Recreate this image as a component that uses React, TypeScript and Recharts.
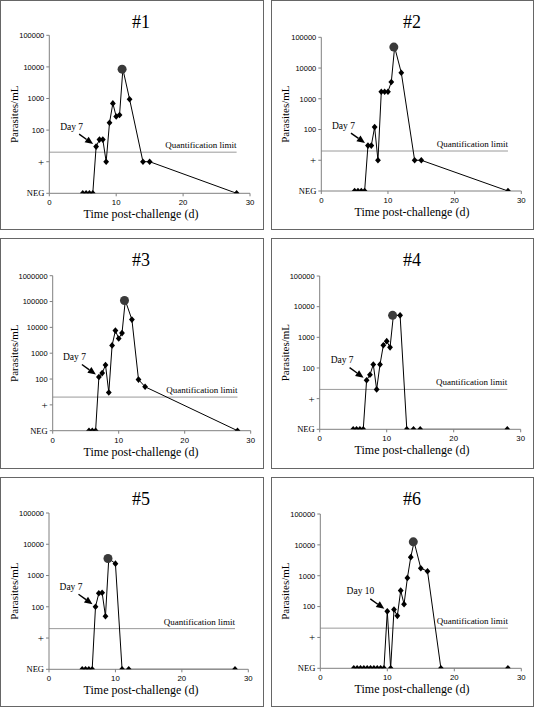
import React from 'react';
import { Line, LineChart, ReferenceDot, ReferenceLine, XAxis, YAxis } from 'recharts';

// pseudo-log y axis: NEG sits at 1, "+" (positive, not quantifiable) at 10
const NEG = 1;
const POS = 10;
const QUANT_LIMIT = 20;
const LIMIT_END_DAY = 28;

const X_TICKS = [0, 10, 20, 30];
const Y_TICKS = [1, 10, 100, 1000, 10000, 100000];
const Y_TICKS_BIG = [1, 10, 100, 1000, 10000, 100000, 1000000];

const DAYS_1 = [5, 5.5, 6, 6.5, 7, 7.5, 8, 8.5, 9, 9.5, 10, 10.5, 11, 12, 14, 15, 28];
const VALUES_1 = [NEG, NEG, NEG, NEG, 30, 50, 50, POS, 170, 700, 270, 300, 8500, 950, POS, POS, NEG];

const DAYS_2 = [5, 5.5, 6, 6.5, 7, 7.5, 8, 8.5, 9, 9.5, 10, 10.5, 11, 12, 14, 15, 28];
const VALUES_2 = [NEG, NEG, NEG, NEG, 30, 30, 120, POS, 1700, 1700, 1700, 3500, 48000, 7000, POS, POS, NEG];

const DAYS_3 = [5.5, 6, 6.5, 7, 7.5, 8, 8.5, 9, 9.5, 10, 10.5, 11, 12, 13, 14, 28];
const VALUES_3 = [NEG, NEG, NEG, 120, 170, 350, 30, 2000, 7500, 3700, 6000, 110000, 20000, 95, 50, NEG];

const DAYS_4 = [5, 5.5, 6, 6.5, 7, 7.5, 8, 8.5, 9, 9.5, 10, 10.5, 11, 12, 13, 14, 15, 28];
const VALUES_4 = [NEG, NEG, NEG, NEG, 40, 60, 130, 20, 130, 550, 750, 470, 5200, 5200, NEG, NEG, NEG, NEG];

const DAYS_5 = [5, 5.5, 6, 6.5, 7, 7.5, 8, 8.5, 9, 10, 11, 12, 28];
const VALUES_5 = [NEG, NEG, NEG, NEG, 100, 270, 280, 50, 3500, 2400, NEG, NEG, NEG];

const DAYS_6 = [5, 5.5, 6, 6.5, 7, 7.5, 8, 8.5, 9, 9.5, 10, 10.5, 11, 11.5, 12, 12.5, 13, 13.5, 14, 15, 16, 18, 28];
const VALUES_6 = [NEG, NEG, NEG, NEG, NEG, NEG, NEG, NEG, NEG, NEG, 70, NEG, 80, 50, 330, 120, 850, 4000, 12500, 1750, 1400, NEG, NEG];

const TITLES = ['#1', '#2', '#3', '#4', '#5', '#6'];
const PEAK_DAYS = [11, 11, 11, 11, 9, 14];
const ARROW_DAYS = [7, 7, 7, 7, 7, 10];

const SERIF = '"Liberation Serif", "Times New Roman", serif';
const SANS = '"Liberation Sans", Arial, sans-serif';

type Layout = { left: number; top: number; w: number; h: number; plot: [number, number, number, number] };

// outer box position + plot insets [left, top, right, bottom] inside the border
const LAYOUTS: Layout[] = [
  { left: 0, top: 0, w: 264, h: 230, plot: [48.3, 34.3, 13, 35.7] },
  { left: 271, top: 0, w: 263, h: 230, plot: [49.3, 36.3, 11.7, 38] },
  { left: 0, top: 238, w: 264, h: 231, plot: [51.7, 36.7, 12.3, 37.3] },
  { left: 271, top: 238, w: 263, h: 231, plot: [47.7, 37, 12.3, 38.7] },
  { left: 0, top: 477, w: 264, h: 230, plot: [48, 35, 14.7, 36.7] },
  { left: 271, top: 477, w: 263, h: 230, plot: [48.3, 36, 11.7, 37.7] },
];

const SERIES = [
  [DAYS_1, VALUES_1],
  [DAYS_2, VALUES_2],
  [DAYS_3, VALUES_3],
  [DAYS_4, VALUES_4],
  [DAYS_5, VALUES_5],
  [DAYS_6, VALUES_6],
];

const YTick = (props: any) => {
  const { x, y, payload } = props;
  const v = payload.value;
  if (v === NEG) {
    return <text x={x} y={y} dy={3} textAnchor="end" fontFamily={SERIF} fontSize={8.5} fill="#000">NEG</text>;
  }
  if (v === POS) {
    return <text x={x} y={y} dy={4} textAnchor="end" fontFamily={SERIF} fontSize={11} fill="#000">+</text>;
  }
  return <text x={x} y={y} dy={2.8} textAnchor="end" fontFamily={SANS} fontSize={7.5} fill="#000">{v}</text>;
};

const XTick = (props: any) => {
  const { x, y, payload } = props;
  return <text x={x} y={y} dy={7} textAnchor="middle" fontFamily={SANS} fontSize={7.8} fill="#000">{payload.value}</text>;
};

const Dot = (props: any) => {
  const { cx, cy, payload, index } = props;
  if (cx == null || cy == null) return <g key={index} />;
  if (payload.peak) {
    return <circle key={index} cx={cx - 0.8} cy={cy} r={4.5} fill="#3a3a3a" />;
  }
  return (
    <polygon
      key={index}
      points={`${cx},${cy - 3.3} ${cx + 2.9},${cy} ${cx},${cy + 3.3} ${cx - 2.9},${cy}`}
      fill="#000"
    />
  );
};

const dayArrow = (label: string) => (props: any) => {
  const { cx, cy } = props;
  const tx = cx - 17, ty = cy - 12.5;
  const hx = cx - 3, hy = cy - 2.5;
  const ang = Math.atan2(hy - ty, hx - tx);
  const len = 8, half = 3.5;
  const bx = hx - len * Math.cos(ang), by = hy - len * Math.sin(ang);
  const px = -Math.sin(ang) * half, py = Math.cos(ang) * half;
  return (
    <g>
      <line x1={tx} y1={ty} x2={bx} y2={by} stroke="#000" strokeWidth={1.4} />
      <polygon points={`${hx},${hy} ${bx + px},${by + py} ${bx - px},${by - py}`} fill="#000" />
      <text x={cx - 13} y={cy - 17} textAnchor="end" fontFamily={SERIF} fontSize={9.5} fill="#000">{label}</text>
    </g>
  );
};

const limitLabel = (props: any) => {
  const { cx, cy } = props;
  return (
    <text x={cx} y={cy - 4} textAnchor="end" fontFamily={SERIF} fontSize={9} fill="#000">
      Quantification limit
    </text>
  );
};

const Panel = ({ i }: { i: number }) => {
  const lay = LAYOUTS[i];
  const [days, values] = SERIES[i];
  const data = days.map((d, k) => ({ day: d, v: values[k], peak: d === PEAK_DAYS[i] }));
  const arrowDay = ARROW_DAYS[i];
  const arrowVal = values[days.indexOf(arrowDay)];
  const W = lay.w - 2;
  const H = lay.h - 2;
  const [pl, pt, pr, pb] = lay.plot;
  const yTicks = i === 2 ? Y_TICKS_BIG : Y_TICKS;
  const yMax = yTicks[yTicks.length - 1];
  const plotCenterY = pt + (H - pt - pb) / 2;

  return (
    <div
      style={{
        position: 'absolute',
        left: lay.left,
        top: lay.top,
        width: W,
        height: H,
        border: '1px solid #666',
        background: '#fff',
      }}
    >
      <LineChart width={W} height={H} data={data} margin={{ top: pt, right: pr, left: 0, bottom: 0 }}>
        <XAxis
          dataKey="day"
          type="number"
          domain={[0, 30]}
          ticks={X_TICKS}
          height={pb}
          tickSize={3}
          tick={<XTick />}
          stroke="#808080"
          interval={0}
        />
        <YAxis
          type="number"
          scale="log"
          domain={[1, yMax]}
          ticks={yTicks}
          width={pl}
          tickSize={3}
          tick={<YTick />}
          stroke="#808080"
          interval={0}
          allowDataOverflow
        />
        <ReferenceLine
          segment={[{ x: 0, y: QUANT_LIMIT }, { x: LIMIT_END_DAY, y: QUANT_LIMIT }]}
          stroke="#9a9a9a"
          strokeWidth={1}
        />
        <Line
          dataKey="v"
          type="linear"
          stroke="#000"
          strokeWidth={1}
          dot={Dot}
          activeDot={false}
          isAnimationActive={false}
        />
        <ReferenceDot x={LIMIT_END_DAY} y={QUANT_LIMIT} r={0} shape={limitLabel} />
        <ReferenceDot x={arrowDay} y={arrowVal} r={0} shape={dayArrow(`Day ${arrowDay}`)} />
      </LineChart>
      <svg width={W} height={H} style={{ position: 'absolute', left: 0, top: 0, pointerEvents: 'none' }}>
        <text x={140} y={27} textAnchor="middle" fontFamily={SERIF} fontSize={18} fill="#000">
          {TITLES[i]}
        </text>
        <text x={140} y={H - pb + 25} textAnchor="middle" fontFamily={SERIF} fontSize={12} fill="#000">
          Time post-challenge (d)
        </text>
        <text
          x={13}
          y={plotCenterY}
          textAnchor="middle"
          fontFamily={SERIF}
          fontSize={11}
          fill="#000"
          transform={`rotate(-90 13 ${plotCenterY})`}
          dy={4}
        >
          Parasites/mL
        </text>
      </svg>
    </div>
  );
};

export default function App() {
  return (
    <div style={{ position: 'absolute', left: 0, top: 0, width: 535, height: 708, background: '#fff' }}>
      {TITLES.map((_, i) => (
        <Panel key={i} i={i} />
      ))}
    </div>
  );
}
